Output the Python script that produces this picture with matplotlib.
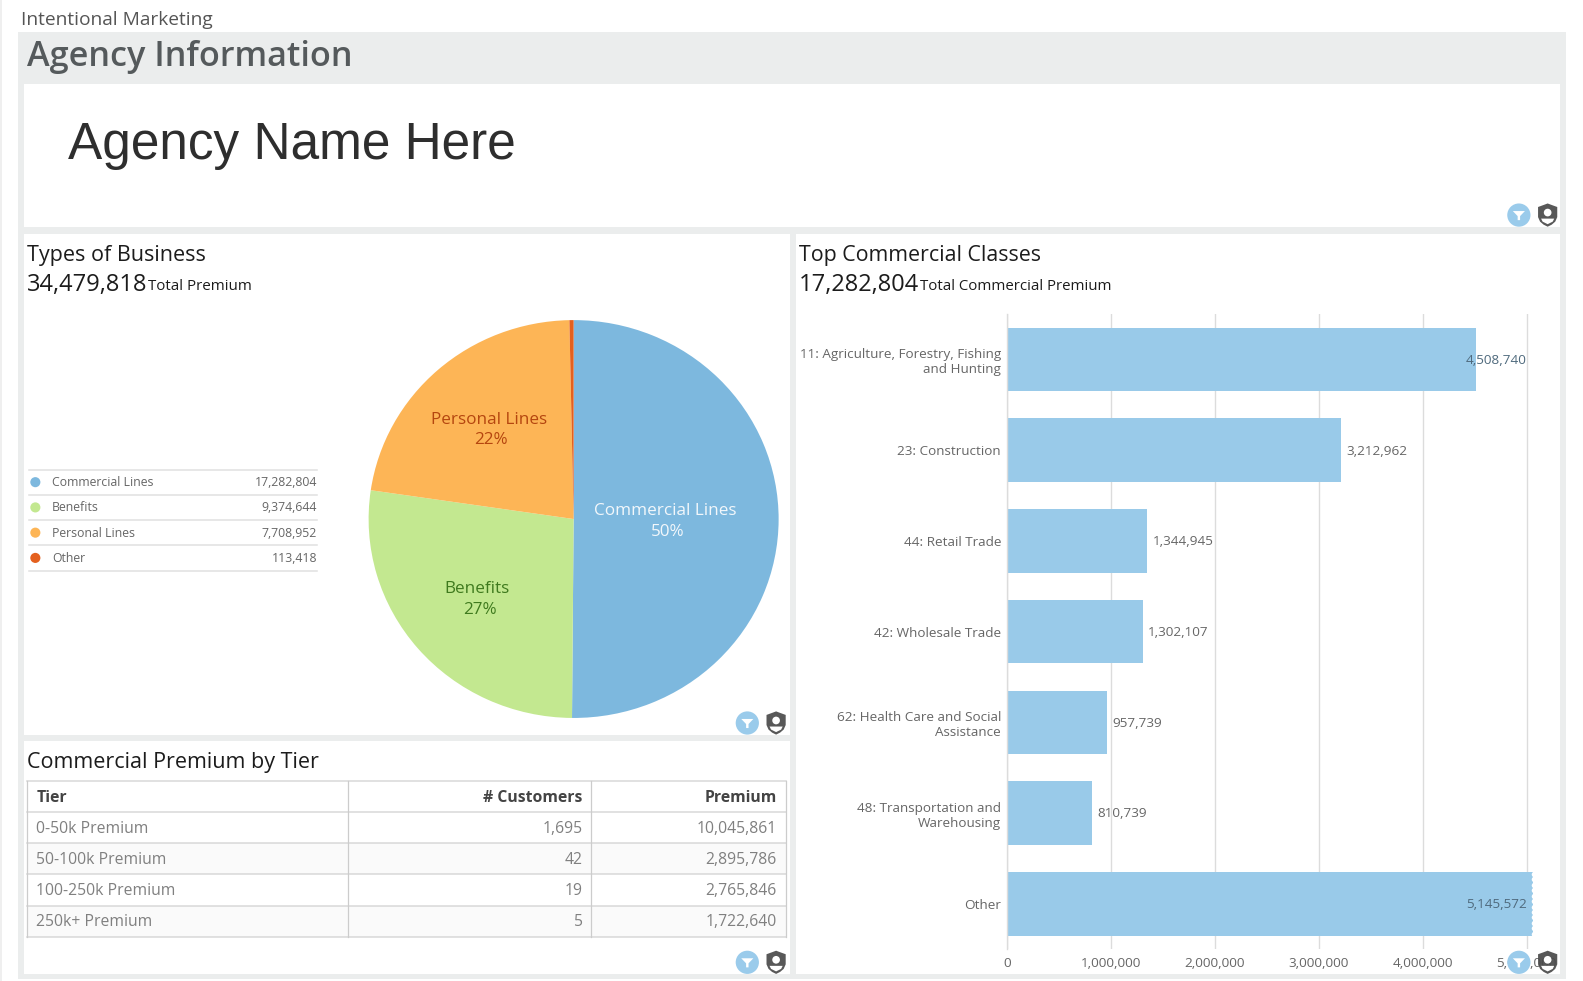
import matplotlib
matplotlib.use("Agg")
import matplotlib.pyplot as plt
from matplotlib.patches import Rectangle, Circle, Polygon

W, H = 1583, 981
# layout numbers below are measured on a 1567x971 view of the screenshot
VW, VH = 1567.5, 971.5

pie_labels = ["Commercial Lines", "Benefits", "Personal Lines", "Other"]
pie_values = [17282804, 9374644, 7708952, 113418]
pie_colors = ["#7db8de", "#c3e890", "#fdb556", "#e4601e"]

bar_labels = ["11: Agriculture, Forestry, Fishing\nand Hunting", "23: Construction", "44: Retail Trade",
              "42: Wholesale Trade", "62: Health Care and Social\nAssistance",
              "48: Transportation and\nWarehousing", "Other"]
bar_values = [4508740, 3212962, 1344945, 1302107, 957739, 810739, 5145572]
bar_ticks = [0, 1000000, 2000000, 3000000, 4000000, 5000000]

table_header = ["Tier", "# Customers", "Premium"]
table_tiers = ["0-50k Premium", "50-100k Premium", "100-250k Premium", "250k+ Premium"]
table_customers = ["1,695", "42", "19", "5"]
table_premium = ["10,045,861", "2,895,786", "2,765,846", "1,722,640"]

FONT = "Open Sans"
GREY = "#ebeded"

fig = plt.figure(figsize=(W / 100, H / 100), dpi=100, facecolor="white")
bg = fig.add_axes([0, 0, 1, 1])
bg.set_xlim(0, VW)
bg.set_ylim(VH, 0)
bg.axis("off")


def axes_at(x0, y0, x1, y1, **kw):
    return fig.add_axes([x0 / VW, 1 - y1 / VH, (x1 - x0) / VW, (y1 - y0) / VH], **kw)


def rect(x0, y0, x1, y1, color, z=1):
    bg.add_patch(Rectangle((x0, y0), x1 - x0, y1 - y0, fc=color, ec="none", zorder=z))


def txt(x, y, s, size, color="#333333", ha="left", weight="normal", family=FONT, ax=None, z=5):
    (ax or bg).text(x, y, s, fontsize=size, color=color, ha=ha, va="center", fontweight=weight,
                    family=family, zorder=z)


def icons(x, y, ax):
    # filter button + shield, x/y = centre of the filter circle
    ax.add_patch(Circle((x, y), 11.5, fc="#9acbeb", ec="none", zorder=20))
    ax.add_patch(Polygon([(x - 6, y - 4), (x + 6, y - 4), (x + 1.2, y + 1), (x + 1.2, y + 5), (x - 1.2, y + 5),
                          (x - 1.2, y + 1)], fc="white", ec="none", zorder=21))
    sx = x + 28.5
    ax.add_patch(Polygon([(sx, y - 11.5), (sx + 4, y - 10), (sx + 9.5, y - 8), (sx + 9.5, y + 2), (sx + 7.5, y + 6.5),
                          (sx + 4, y + 9.5), (sx, y + 11.5), (sx - 4, y + 9.5), (sx - 7.5, y + 6.5),
                          (sx - 9.5, y + 2), (sx - 9.5, y - 8), (sx - 4, y - 10)],
                         fc="#4a4a4a", ec="none", alpha=0.92, zorder=20))
    ax.add_patch(Circle((sx, y - 2.5), 3.8, fc="white", ec="none", zorder=21))
    ax.add_patch(Polygon([(sx - 6.5, y + 3.5), (sx + 6.5, y + 3.5), (sx + 5, y + 6.5), (sx, y + 9), (sx - 5, y + 6.5)],
                         fc="white", ec="none", zorder=21))


# page frame and panels
rect(0, 0, 2, VH, "#efefef")
rect(18, 32, 1551, 970, GREY)
rect(24, 83, 1545, 225, "white", 2)
rect(24, 232, 782, 728, "white", 2)
rect(24, 734, 782, 965, "white", 2)
rect(788, 232, 1545, 965, "white", 2)

txt(21, 20, "Intentional Marketing", 13.8, "#555555")
txt(27, 56, "Agency Information", 24.7, "#555a5c", weight="semibold")
txt(67, 144, "Agency Name Here", 37, "#2e2e2e", family="Liberation Sans")

txt(27, 253, "Types of Business", 15.5, "#1c1c1c")
txt(27, 282, "34,479,818", 17, "#1c1c1c")
txt(147, 284, "Total Premium", 10.9, "#1c1c1c")
txt(791, 253, "Top Commercial Classes", 15.4, "#1c1c1c")
txt(791, 282, "17,282,804", 17, "#1c1c1c")
txt(911, 284, "Total Commercial Premium", 10.8, "#1c1c1c")
txt(27, 755.5, "Commercial Premium by Tier", 15.5, "#1c1c1c")

# legend table next to the pie
legend_ys = [477.5, 502.5, 527.5, 552.5]
for y in [465, 490, 515, 540, 565]:
    bg.plot([29, 314], [y, y], color="#e0e0e0", lw=1.1, zorder=3)
for y, name, val, col in zip(legend_ys, pie_labels, pie_values, pie_colors):
    bg.add_patch(Circle((35, y), 5, fc=col, ec="none", zorder=4))
    txt(51.5, y + 0.5, name, 8.8, "#666666")
    txt(314, y + 0.5, f"{val:,}", 8.8, "#666666", ha="right")

# pie (slightly squashed in the screenshot, so no equal aspect)
ax_pie = axes_at(365, 317, 771, 711)
ax_pie.pie(pie_values, colors=pie_colors, startangle=90, counterclock=False, radius=1.0,
           wedgeprops={"linewidth": 0})
ax_pie.set_aspect("auto")
ax_pie.set_xlim(-1, 1)
ax_pie.set_ylim(-1, 1)

# bars
ax_bar = axes_at(997.5, 311, 1518, 940)
pos = list(range(len(bar_values)))
ax_bar.barh(pos, bar_values, height=0.7, color="#99cae9", zorder=2)
ax_bar.set_xlim(0, 5062000)
ax_bar.set_ylim(6.5, -0.5)
ax_bar.set_xticks(bar_ticks)
ax_bar.set_xticklabels([f"{t:,}" for t in bar_ticks], fontsize=9.7, color="#666666", family=FONT)
ax_bar.set_yticks(pos)
ax_bar.set_yticklabels(bar_labels, fontsize=9.7, color="#666666", family=FONT, linespacing=1.2)
ax_bar.tick_params(length=0, pad=4.5)
ax_bar.tick_params(axis="x", pad=5.5)
ax_bar.grid(axis="x", color="#dcdcdc", lw=1.0, zorder=1)
ax_bar.set_axisbelow(True)
for s in ["top", "right", "bottom"]:
    ax_bar.spines[s].set_visible(False)
ax_bar.spines["left"].set_color("#dcdcdc")
ax_bar.spines["left"].set_linewidth(1.0)
for i, v in enumerate(bar_values):
    if v > 4400000:
        ax_bar.text(5000000, i + 0.01, f"{v:,}", ha="right", va="center", fontsize=9.7, color="#4f6a7d",
                    family=FONT, zorder=4)
    else:
        ax_bar.text(v + 52000, i + 0.01, f"{v:,}", ha="left", va="center", fontsize=9.7, color="#666666",
                    family=FONT, zorder=4)
# torn edge on the clipped "Other" bar
notch = [5.67 + 0.06 * k for k in range(12)]
ax_bar.scatter([5068000] * len(notch), notch, s=16, color="white", zorder=3, linewidths=0, clip_on=False)

# tier table
col_x = [27, 345, 585, 778]
row_y = [773, 804, 835, 866, 897, 928]
for r in (2, 4):
    rect(col_x[0], row_y[r], col_x[-1], row_y[r + 1], "#fafafa", 3)
for y in row_y:
    bg.plot([col_x[0], col_x[-1]], [y, y], color="#d8d8d8", lw=1.1, zorder=4)
for x in col_x:
    bg.plot([x, x], [row_y[0], row_y[-1]], color="#cccccc", lw=0.9, zorder=4)
txt(36, 790, table_header[0], 11.3, "#444444", weight="bold")
txt(577, 790, table_header[1], 11.3, "#444444", ha="right", weight="bold")
txt(769, 790, table_header[2], 11.3, "#444444", ha="right", weight="bold")
for i in range(4):
    y = (row_y[i + 1] + row_y[i + 2]) / 2 + 1
    txt(36, y, table_tiers[i], 11.3, "#808080")
    txt(577, y, table_customers[i], 11.3, "#808080", ha="right")
    txt(769, y, table_premium[i], 11.3, "#808080", ha="right")

# top layer: pie captions and icons, the icons cover the last tick label
top = fig.add_axes([0, 0, 1, 1], facecolor="none")
top.set_xlim(0, VW)
top.set_ylim(VH, 0)
top.axis("off")
txt(659, 506, "Commercial Lines", 12.3, "#f2f7fb", ha="center", ax=top)
txt(661, 527, "50%", 12.3, "#f2f7fb", ha="center", ax=top)
txt(472, 583, "Benefits", 12.3, "#3f7a1e", ha="center", ax=top)
txt(475, 604, "27%", 12.3, "#3f7a1e", ha="center", ax=top)
txt(484, 416, "Personal Lines", 12.3, "#b5460f", ha="center", ax=top)
txt(486, 436, "22%", 12.3, "#b5460f", ha="center", ax=top)
for ix, iy in [(1504, 213), (740, 716), (740, 953), (1504, 953)]:
    icons(ix, iy, top)

fig.savefig("out.png", dpi=100)
